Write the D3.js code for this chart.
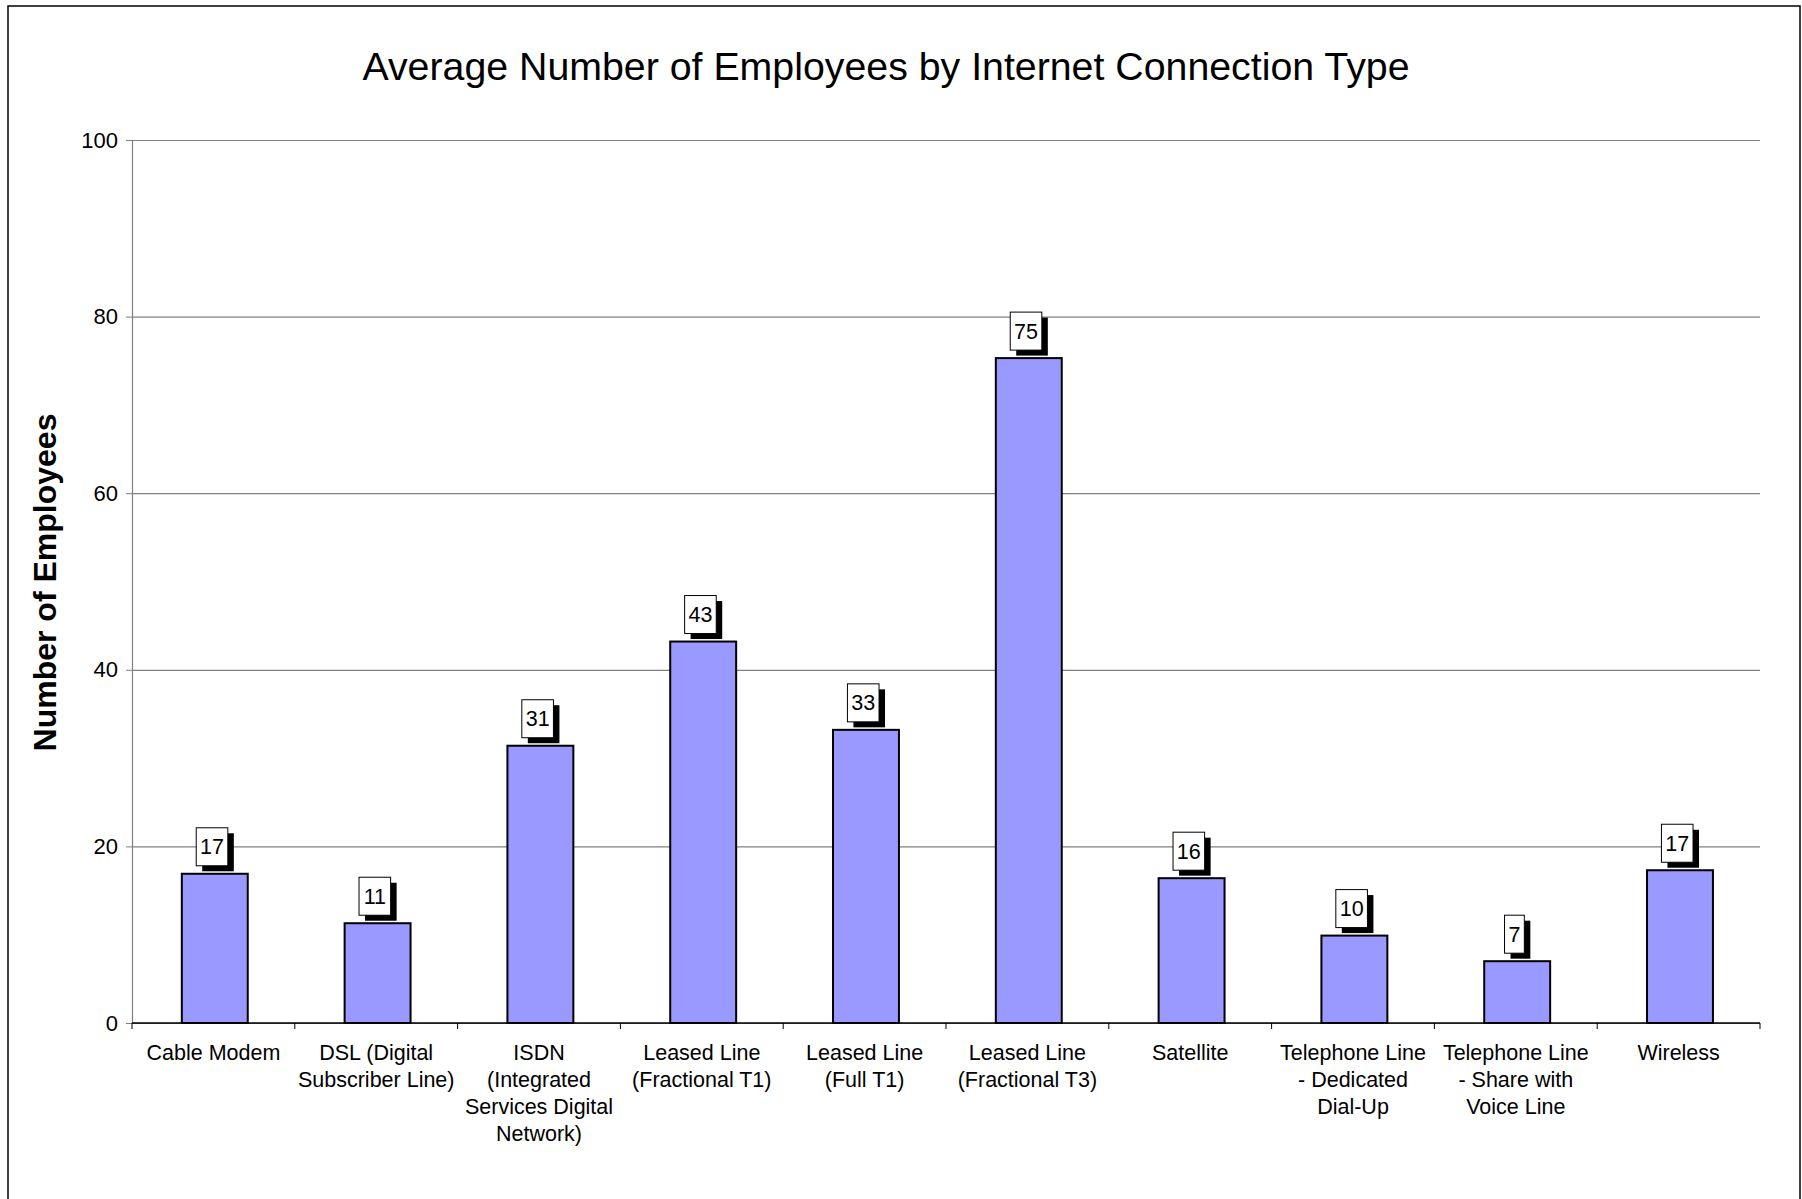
<!DOCTYPE html>
<html>
<head>
<meta charset="utf-8">
<script src="https://cdn.jsdelivr.net/npm/d3@7"></script>
<style>
  body { margin: 0; background: #fff; }
  svg { display: block; font-family: "Liberation Sans", Arial, sans-serif; }
</style>
</head>
<body>
<svg id="chart"></svg>
<script>
const categories = [
  "Cable Modem",
  "DSL (Digital Subscriber Line)",
  "ISDN (Integrated Services Digital Network)",
  "Leased Line (Fractional T1)",
  "Leased Line (Full T1)",
  "Leased Line (Fractional T3)",
  "Satellite",
  "Telephone Line - Dedicated Dial-Up",
  "Telephone Line - Share with Voice Line",
  "Wireless",
];
// wrapped tick labels as they appear under the axis
const tickLines = [
  ["Cable Modem"],
  ["DSL (Digital", "Subscriber Line)"],
  ["ISDN", "(Integrated", "Services Digital", "Network)"],
  ["Leased Line", "(Fractional T1)"],
  ["Leased Line", "(Full T1)"],
  ["Leased Line", "(Fractional T3)"],
  ["Satellite"],
  ["Telephone Line", "- Dedicated", "Dial-Up"],
  ["Telephone Line", "- Share with", "Voice Line"],
  ["Wireless"],
];
const employees = [16.9, 11.3, 31.4, 43.2, 33.2, 75.3, 16.4, 9.9, 7.0, 17.3];
const yTicks = [0, 20, 40, 60, 80, 100];

const W = 1802, H = 1199;
const margin = { top: 140, right: 42, bottom: 176, left: 132 };
const plotRight = W - margin.right;
const plotBottom = H - margin.bottom;

const svg = d3.select("#chart").attr("width", W).attr("height", H);

// outer chart frame
svg.append("rect")
  .attr("x", 8).attr("y", 6)
  .attr("width", 1792).attr("height", 1220)
  .attr("fill", "none").attr("stroke", "#000").attr("stroke-width", 1.5);

const x = d3.scaleBand()
  .domain(categories)
  .range([margin.left, plotRight])
  .padding(0);

const y = d3.scaleLinear()
  .domain([0, 100])
  .range([plotBottom, margin.top]);

// gridlines + y axis
svg.append("g")
  .attr("transform", `translate(${margin.left},0)`)
  .call(d3.axisLeft(y).tickValues(yTicks).tickSize(6).tickPadding(8))
  .call((g) => g.select(".domain").attr("stroke", "#808080").attr("stroke-width", 1.2))
  .call((g) => g.selectAll(".tick line").attr("stroke", "#808080"))
  .call((g) =>
    g.selectAll(".tick")
      .append("line")
      .attr("x1", 0).attr("x2", plotRight - margin.left)
      .attr("stroke", "#808080").attr("stroke-width", 1.2)
  )
  .call((g) =>
    g.selectAll(".tick text")
      .attr("font-size", 22).attr("fill", "#000")
      .attr("font-family", "Liberation Sans, Arial, sans-serif")
  );

// x axis: ticks at category boundaries
const bounds = categories.map((c) => x(c)).concat([plotRight]);
const xAxis = svg.append("g");
xAxis.append("line")
  .attr("x1", margin.left).attr("x2", plotRight)
  .attr("y1", plotBottom).attr("y2", plotBottom)
  .attr("stroke", "#000").attr("stroke-width", 1.5);
xAxis.selectAll(".bt")
  .data(bounds)
  .enter()
  .append("line")
  .attr("x1", (d) => d).attr("x2", (d) => d)
  .attr("y1", plotBottom).attr("y2", plotBottom + 6)
  .attr("stroke", "#000");

// category labels
const labels = svg.append("g")
  .selectAll("text")
  .data(categories)
  .enter()
  .append("text")
  .attr("text-anchor", "middle")
  .attr("font-size", 21.5)
  .attr("fill", "#000")
  .attr("transform", (d) => `translate(${x(d) + x.bandwidth() / 2},${plotBottom + 37})`);
labels.selectAll("tspan")
  .data((d, i) => tickLines[i])
  .enter()
  .append("tspan")
  .attr("x", 0)
  .attr("y", (d, i) => i * 27)
  .text((d) => d);

// bars
const barW = x.bandwidth() * 0.405;
svg.append("g")
  .selectAll("rect")
  .data(employees)
  .enter()
  .append("rect")
  .attr("x", (d, i) => x(categories[i]) + x.bandwidth() * 0.306)
  .attr("y", (d) => y(d))
  .attr("width", barW)
  .attr("height", (d) => y(0) - y(d))
  .attr("fill", "#9999FF")
  .attr("stroke", "#000")
  .attr("stroke-width", 2);

// value labels with drop shadow
const valLabels = svg.append("g")
  .selectAll("g")
  .data(employees)
  .enter()
  .append("g")
  .attr("transform", (d, i) =>
    `translate(${x(categories[i]) + x.bandwidth() * 0.51 - 3},${y(d) - 27})`
  );
valLabels.each(function (d) {
  const g = d3.select(this);
  const txt = d3.format(".0f")(d);
  const bw = txt.length * 11.8 + 8;
  const bh = 38;
  g.append("rect")
    .attr("x", -bw / 2 + 6).attr("y", -bh / 2 + 5.5)
    .attr("width", bw).attr("height", bh)
    .attr("fill", "#000");
  g.append("rect")
    .attr("x", -bw / 2).attr("y", -bh / 2)
    .attr("width", bw).attr("height", bh)
    .attr("fill", "#fff").attr("stroke", "#000").attr("stroke-width", 1);
  g.append("text")
    .attr("text-anchor", "middle")
    .attr("dy", "0.35em")
    .attr("font-size", 21.5)
    .text(txt);
});

// title
svg.append("text")
  .attr("x", 886).attr("y", 80)
  .attr("text-anchor", "middle")
  .attr("font-size", 39.3)
  .text("Average Number of Employees by Internet Connection Type");

// y axis title
svg.append("text")
  .attr("transform", `translate(56,${(margin.top + plotBottom) / 2 + 1}) rotate(-90)`)
  .attr("text-anchor", "middle")
  .attr("font-size", 32)
  .attr("font-weight", "bold")
  .text("Number of Employees");
</script>
</body>
</html>
